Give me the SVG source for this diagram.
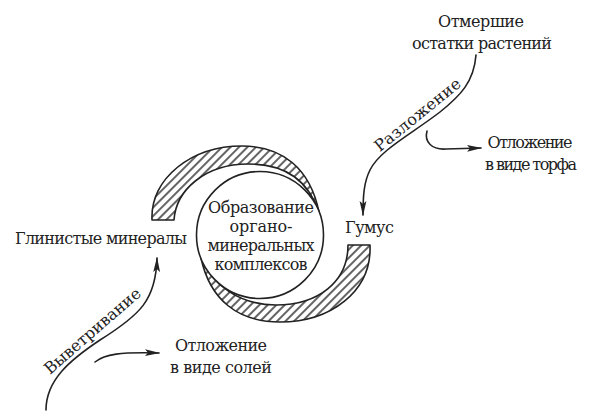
<svg xmlns="http://www.w3.org/2000/svg" width="597" height="416" viewBox="0 0 597 416">
<defs>
<style>
text{font-family:"DejaVu Serif","Liberation Serif",serif;font-size:16px;fill:#222}
.c{text-anchor:middle}
.ln{fill:none;stroke:#222;stroke-width:1.6;stroke-linecap:round}
.band{fill:url(#hatch);stroke:#222;stroke-width:1.6;stroke-linejoin:round}
</style>
<pattern id="hatch" width="6" height="6" patternUnits="userSpaceOnUse" patternTransform="rotate(45)">
<rect width="6" height="6" fill="#fff"/>
<line x1="3" y1="0" x2="3" y2="6" stroke="#222" stroke-width="1.4"/>
</pattern>
<marker id="arr" viewBox="0 0 15 8" refX="14" refY="4" markerWidth="15" markerHeight="8" markerUnits="userSpaceOnUse" orient="auto">
<path d="M0,0.6 L15,4 L0,7.4 L3,4 Z" fill="#222"/>
</marker>
</defs>
<rect width="597" height="416" fill="#fff"/>
<g id="connectors">
<path class="ln" d="M476,55 C474,82 460,96 440,112 C410,135 380,150 370,170 C364,182 363,195 363,215" marker-end="url(#arr)"/>
<path class="ln" d="M427,131 C424,142 432,150 446,149 L481,148" marker-end="url(#arr)"/>
<path class="ln" d="M46,410 C46,380 70,360 100,340 C140,315 156,300 157,258" marker-end="url(#arr)"/>
<path class="ln" d="M95,362 C105,354 120,352 159,353" marker-end="url(#arr)"/>
</g>
<g id="cycle">
<path class="band" d="M152,220 C150,178 192,146 242,146 C282,146 310,168 319,212 C308,182 288,164 248,164 C205,164 176,190 174,220 Z"/>
<path class="band" d="M370,245 C372,292 330,322 280,322 C238,322 210,300 201,258 C212,285 240,305 276,305 C318,305 348,282 348,245 Z"/>
</g>
<g id="center">
<circle cx="260" cy="235" r="63.5" fill="#fff" stroke="#222" stroke-width="1.6"/>
<text class="c" x="261" y="213" textLength="106">Образование</text>
<text class="c" x="261" y="232" textLength="63">органо-</text>
<text class="c" x="261" y="251" textLength="107">минеральных</text>
<text class="c" x="261" y="270" textLength="93">комплексов</text>
</g>
<g id="residues"><text class="c" x="481" y="27" textLength="86">Отмершие</text><text class="c" x="482" y="49" textLength="140">остатки растений</text></g>
<g id="peat"><text class="c" x="530" y="148" textLength="85">Отложение</text><text class="c" x="531" y="170" textLength="92">в виде торфа</text></g>
<g id="humus"><text x="345" y="233" textLength="49">Гумус</text></g>
<g id="clay"><text x="15" y="244" textLength="172">Глинистые минералы</text></g>
<g id="salts"><text class="c" x="221" y="351" textLength="92">Отложение</text><text class="c" x="221" y="373" textLength="102">в виде солей</text></g>
<g id="decomp"><text class="c" x="421" y="119" textLength="106" transform="rotate(-39 421 119)">Разложение</text></g>
<g id="weather"><text class="c" x="96" y="335" textLength="122" transform="rotate(-41 96 335)">Выветривание</text></g>
</svg>
